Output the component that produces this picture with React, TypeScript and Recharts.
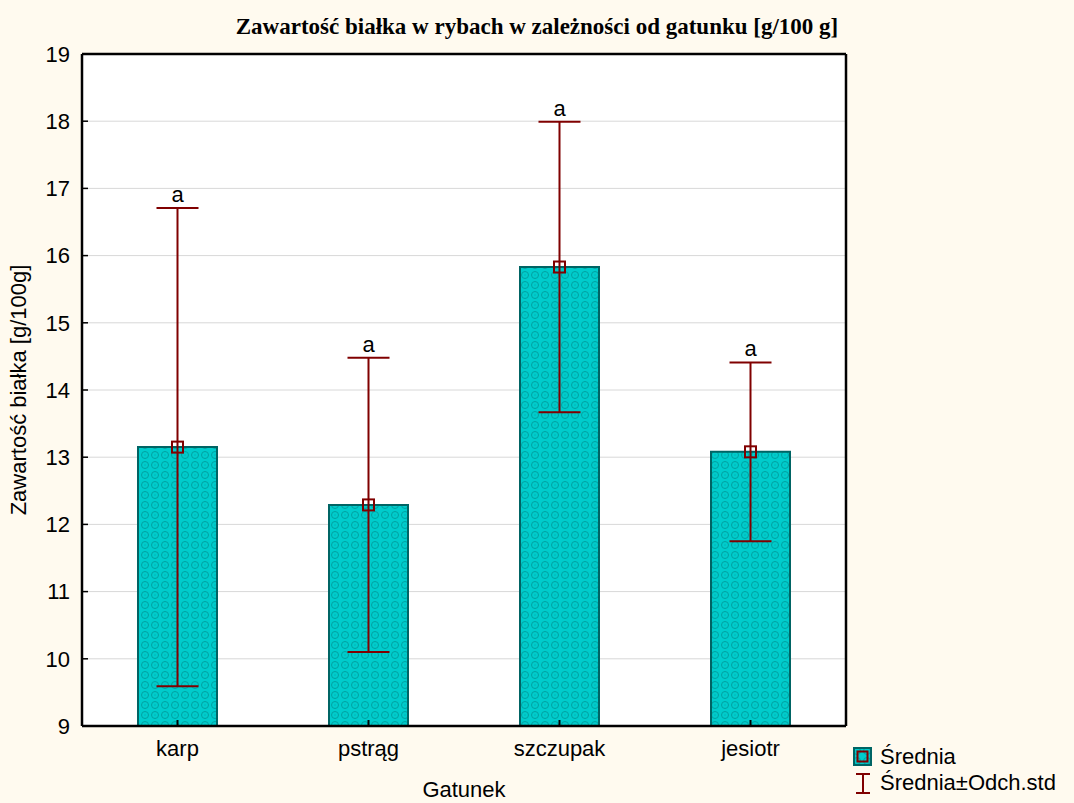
import React from 'react';
import {
  ComposedChart,
  Bar,
  ErrorBar,
  Scatter,
  XAxis,
  YAxis,
  CartesianGrid,
} from 'recharts';

// dane
const species = ['karp', 'pstrąg', 'szczupak', 'jesiotr'];
const means = [13.15, 12.29, 15.83, 13.08];
const stds = [3.56, 2.19, 2.16, 1.33];
const groups = ['a', 'a', 'a', 'a'];
const yTicks = [9, 10, 11, 12, 13, 14, 15, 16, 17, 18, 19];

const data = species.map((name, i) => ({
  name,
  mean: means[i],
  std: stds[i],
  upper: means[i] + stds[i],
  group: groups[i],
}));

const FONT = '"Liberation Sans", Arial, sans-serif';
const FS = 22;
const DARK_RED = '#800000';
const BAR_STROKE = '#006464';

const MeanSquare = (props: any) => {
  const { cx, cy } = props;
  if (cx == null || cy == null) return null;
  return (
    <rect x={cx - 5.5} y={cy - 5.5} width={11} height={11} fill="none" stroke={DARK_RED} strokeWidth={2} />
  );
};

const GroupLabel = (props: any) => {
  const { cx, cy, payload } = props;
  if (cx == null || cy == null) return null;
  return (
    <text x={cx} y={cy - 6} textAnchor="middle" fontSize={FS} fontFamily={FONT} fill="#000">
      {payload.group}
    </text>
  );
};

const Nothing = () => null;

const LegendBox = () => (
  <div style={{ fontFamily: FONT, fontSize: FS, color: '#000', lineHeight: '26px' }}>
    <div style={{ display: 'flex', alignItems: 'center' }}>
      <svg width={22} height={22} style={{ marginRight: 6 }}>
        <rect x={2} y={2} width={17} height={17} fill="url(#tealPattern)" stroke={BAR_STROKE} strokeWidth={2} />
        <rect x={5.5} y={5.5} width={10} height={10} fill="none" stroke={DARK_RED} strokeWidth={2} />
      </svg>
      <span>Średnia</span>
    </div>
    <div style={{ display: 'flex', alignItems: 'center' }}>
      <svg width={22} height={22} style={{ marginRight: 6 }}>
        <line x1={4} x2={18} y1={2} y2={2} stroke={DARK_RED} strokeWidth={2} />
        <line x1={11} x2={11} y1={2} y2={21} stroke={DARK_RED} strokeWidth={2} />
        <line x1={4} x2={18} y1={21} y2={21} stroke={DARK_RED} strokeWidth={2} />
      </svg>
      <span>Średnia±Odch.std</span>
    </div>
  </div>
);

export default function App() {
  return (
    <div
      style={{
        position: 'fixed',
        left: 0,
        top: 0,
        width: 1074,
        height: 803,
        background: '#FFFAEF',
        fontFamily: FONT,
      }}
    >
      <svg width={0} height={0} style={{ position: 'absolute' }}>
        <defs>
          <pattern id="tealPattern" width={10} height={10} patternUnits="userSpaceOnUse">
            <rect width={10} height={10} fill="#00CCCC" />
            <circle cx={5} cy={5} r={3.5} fill="none" stroke="#00A0A0" strokeWidth={1} />
            <rect x={4.5} y={4.5} width={1} height={1} fill="#00A0A0" />
          </pattern>
        </defs>
      </svg>

      <div
        style={{
          position: 'absolute',
          left: 0,
          top: 13,
          width: 1074,
          textAlign: 'center',
          fontFamily: '"Liberation Serif", "Times New Roman", serif',
          fontWeight: 'bold',
          fontSize: 23,
          lineHeight: '28px',
          color: '#000',
        }}
      >
        Zawartość białka w rybach w zależności od gatunku [g/100 g]
      </div>

      <div style={{ position: 'absolute', left: 0, top: 0 }}>
        <ComposedChart
          width={1074}
          height={803}
          data={data}
          margin={{ top: 53, right: 227, bottom: 0, left: 0 }}
          style={{ fontFamily: FONT }}
        >
          <CartesianGrid vertical={false} fill="#FFFFFF" stroke="#D8D8D8" strokeWidth={1} />
          <XAxis
            dataKey="name"
            height={77}
            tickSize={-6}
            tickMargin={20}
            axisLine={{ stroke: '#000', strokeWidth: 2.5 }}
            tickLine={{ stroke: '#000', strokeWidth: 2 }}
            tick={{ fill: '#000', fontSize: FS, fontFamily: FONT }}
            label={{ value: 'Gatunek', position: 'insideBottom', offset: 6, fill: '#000', fontSize: FS, fontFamily: FONT }}
          />
          <XAxis
            xAxisId="top"
            dataKey="name"
            orientation="top"
            height={1}
            tick={false}
            tickLine={false}
            axisLine={{ stroke: '#000', strokeWidth: 2.5 }}
          />
          <YAxis
            type="number"
            domain={[9, 19]}
            ticks={yTicks}
            allowDataOverflow
            width={82}
            tickSize={-6}
            tickMargin={18}
            axisLine={{ stroke: '#000', strokeWidth: 2.5 }}
            tickLine={{ stroke: '#000', strokeWidth: 1.5 }}
            tick={{ fill: '#000', fontSize: FS, fontFamily: FONT }}
            label={{
              value: 'Zawartość białka [g/100g]',
              angle: -90,
              position: 'insideLeft',
              offset: 18,
              style: { textAnchor: 'middle' },
              fill: '#000',
              fontSize: FS,
              fontFamily: FONT,
            }}
          />
          <YAxis
            yAxisId="right"
            orientation="right"
            type="number"
            domain={[9, 19]}
            ticks={yTicks}
            allowDataOverflow
            width={1}
            tickSize={-6}
            tick={false}
            axisLine={{ stroke: '#000', strokeWidth: 2.5 }}
            tickLine={{ stroke: '#000', strokeWidth: 1.5 }}
          />
          <Bar
            dataKey="mean"
            barSize={79}
            fill="url(#tealPattern)"
            stroke={BAR_STROKE}
            strokeWidth={2}
            isAnimationActive={false}
          >
            <ErrorBar dataKey="std" width={21} stroke={DARK_RED} strokeWidth={2} direction="y" />
          </Bar>
          <Scatter dataKey="mean" shape={MeanSquare} isAnimationActive={false} />
          <Scatter dataKey="upper" shape={GroupLabel} isAnimationActive={false} />
          <Scatter dataKey="mean" xAxisId="top" yAxisId="right" shape={Nothing} isAnimationActive={false} />
        </ComposedChart>
      </div>

      <div style={{ position: 'absolute', left: 852, top: 744 }}>
        <LegendBox />
      </div>
    </div>
  );
}
